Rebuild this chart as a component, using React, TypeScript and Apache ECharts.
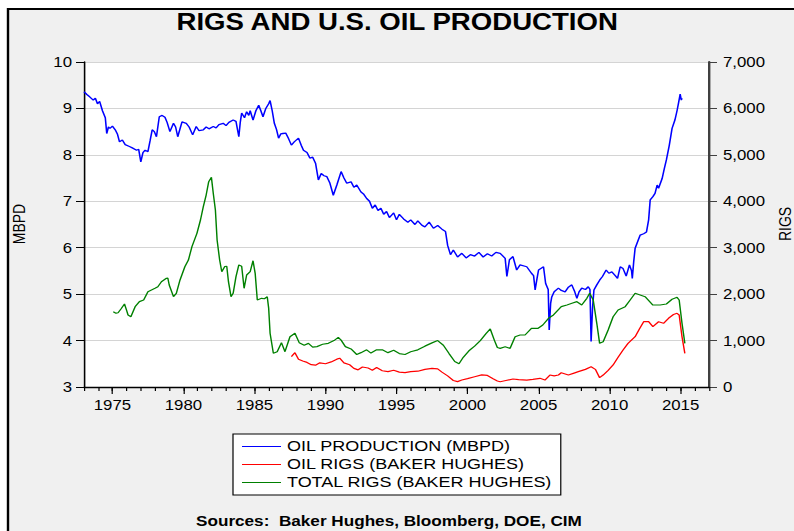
import React, { useEffect, useRef } from 'react';
import * as echarts from 'echarts';

// The reference picture is horizontally stretched; the chart is laid out in
// "chart units" and stretched by S with CSS.
const S = 1.2;
const W = 794 / S;
const FONT = '"Liberation Sans", Arial, Helvetica, sans-serif';

const TITLE = 'RIGS AND U.S. OIL PRODUCTION';
const SOURCES = 'Sources:  Baker Hughes, Bloomberg, DOE, CIM';
const LEFT_NAME = 'MBPD';
const RIGHT_NAME = 'RIGS';
const SERIES_NAMES = ['OIL PRODUCTION (MBPD)', 'OIL RIGS (BAKER HUGHES)', 'TOTAL RIGS (BAKER HUGHES)'];

const X_MIN = 1973;
const X_MAX = 2017;
const X_CATEGORIES = [
  '1973', '1974', '1975', '1976', '1977', '1978', '1979', '1980', '1981', '1982',
  '1983', '1984', '1985', '1986', '1987', '1988', '1989', '1990', '1991', '1992',
  '1993', '1994', '1995', '1996', '1997', '1998', '1999', '2000', '2001', '2002',
  '2003', '2004', '2005', '2006', '2007', '2008', '2009', '2010', '2011', '2012',
  '2013', '2014', '2015', '2016', '2017',
];
const X_LABELS = ['1975', '1980', '1985', '1990', '1995', '2000', '2005', '2010', '2015'];

// [year, million barrels per day]
const oilProduction: [number, number][] = [
  [1973.0, 9.36], [1973.2, 9.3], [1973.4, 9.25], [1973.65, 9.18], [1973.8, 9.22], [1973.95, 9.1],
  [1974.1, 9.15], [1974.3, 8.95], [1974.5, 8.8], [1974.6, 8.46], [1974.72, 8.6], [1974.83, 8.57],
  [1975.0, 8.62], [1975.2, 8.54], [1975.35, 8.45], [1975.5, 8.28], [1975.7, 8.32], [1975.9, 8.22],
  [1976.2, 8.18], [1976.4, 8.15], [1976.7, 8.1], [1976.85, 8.12], [1977.0, 7.85], [1977.15, 8.05],
  [1977.3, 8.1], [1977.5, 8.07], [1977.65, 8.3], [1977.8, 8.54], [1977.95, 8.5], [1978.1, 8.39],
  [1978.3, 8.82], [1978.5, 8.85], [1978.7, 8.81], [1978.85, 8.7], [1979.05, 8.5], [1979.3, 8.68],
  [1979.45, 8.6], [1979.6, 8.39], [1979.9, 8.71], [1980.2, 8.68], [1980.4, 8.6], [1980.65, 8.43],
  [1980.9, 8.61], [1981.1, 8.52], [1981.4, 8.54], [1981.6, 8.6], [1981.8, 8.56], [1982.1, 8.61],
  [1982.3, 8.58], [1982.5, 8.65], [1982.8, 8.68], [1983.0, 8.63], [1983.2, 8.7], [1983.5, 8.75],
  [1983.7, 8.72], [1983.9, 8.39], [1984.0, 8.7], [1984.1, 8.9], [1984.3, 8.8], [1984.45, 8.93],
  [1984.6, 8.85], [1984.7, 8.95], [1984.9, 8.75], [1985.1, 8.95], [1985.3, 9.07], [1985.45, 8.95],
  [1985.6, 8.82], [1985.8, 9.0], [1986.0, 9.1], [1986.1, 9.17], [1986.25, 8.95], [1986.4, 8.68],
  [1986.55, 8.55], [1986.7, 8.36], [1986.85, 8.45], [1987.0, 8.46], [1987.2, 8.47], [1987.4, 8.35],
  [1987.6, 8.21], [1987.8, 8.28], [1988.1, 8.36], [1988.3, 8.2], [1988.45, 8.1], [1988.7, 8.05],
  [1988.9, 7.93], [1989.1, 7.95], [1989.3, 7.82], [1989.5, 7.46], [1989.7, 7.6], [1989.9, 7.55],
  [1990.1, 7.53], [1990.3, 7.4], [1990.55, 7.13], [1990.8, 7.35], [1991.1, 7.64], [1991.3, 7.5],
  [1991.5, 7.39], [1991.8, 7.42], [1992.0, 7.3], [1992.2, 7.35], [1992.5, 7.2], [1992.7, 7.15],
  [1992.9, 7.06], [1993.1, 7.0], [1993.3, 6.85], [1993.5, 6.92], [1993.7, 6.8], [1993.9, 6.85],
  [1994.1, 6.72], [1994.3, 6.78], [1994.5, 6.65], [1994.8, 6.75], [1995.0, 6.6], [1995.2, 6.72],
  [1995.5, 6.62], [1995.8, 6.55], [1996.0, 6.6], [1996.3, 6.5], [1996.5, 6.58], [1996.8, 6.48],
  [1997.0, 6.45], [1997.3, 6.55], [1997.6, 6.42], [1997.9, 6.48], [1998.2, 6.4], [1998.45, 6.35],
  [1998.6, 6.05], [1998.8, 5.85], [1999.0, 5.95], [1999.3, 5.8], [1999.6, 5.88], [1999.9, 5.78],
  [2000.2, 5.85], [2000.5, 5.82], [2000.8, 5.9], [2001.1, 5.8], [2001.4, 5.87], [2001.7, 5.82],
  [2002.0, 5.9], [2002.3, 5.88], [2002.65, 5.77], [2002.77, 5.38], [2002.95, 5.74], [2003.2, 5.81],
  [2003.46, 5.52], [2003.7, 5.63], [2004.17, 5.59], [2004.5, 5.45], [2004.65, 5.4], [2004.76, 5.09],
  [2004.9, 5.35], [2005.0, 5.52], [2005.35, 5.59], [2005.5, 5.23], [2005.68, 5.1], [2005.75, 4.23],
  [2005.85, 4.8], [2005.93, 4.94], [2006.1, 5.05], [2006.4, 5.13], [2006.6, 5.08], [2006.87, 5.05],
  [2007.1, 5.15], [2007.34, 5.2], [2007.55, 5.05], [2007.7, 4.91], [2007.85, 5.05], [2008.04, 5.13],
  [2008.3, 5.1], [2008.5, 5.16], [2008.62, 5.1], [2008.7, 3.98], [2008.8, 4.7], [2008.9, 5.09],
  [2009.1, 5.2], [2009.3, 5.3], [2009.5, 5.38], [2009.76, 5.52], [2009.95, 5.45], [2010.16, 5.48],
  [2010.4, 5.4], [2010.56, 5.34], [2010.75, 5.59], [2010.95, 5.55], [2011.17, 5.39], [2011.4, 5.63],
  [2011.55, 5.5], [2011.6, 5.34], [2011.7, 5.7], [2011.8, 5.99], [2012.0, 6.15], [2012.15, 6.27],
  [2012.4, 6.3], [2012.6, 6.34], [2012.75, 6.6], [2012.86, 7.03], [2013.05, 7.1], [2013.2, 7.17],
  [2013.35, 7.35], [2013.45, 7.28], [2013.7, 7.49], [2013.85, 7.7], [2014.0, 7.89], [2014.2, 8.2],
  [2014.4, 8.57], [2014.6, 8.75], [2014.75, 8.95], [2014.85, 9.11], [2014.97, 9.31], [2015.05, 9.18],
  [2015.1, 9.22],
];

// [year, rigs]
const oilRigs: [number, number][] = [
  [1987.6, 653], [1987.85, 739], [1988.1, 597], [1988.4, 560], [1988.7, 530], [1989.0, 480],
  [1989.3, 470], [1989.6, 520], [1990.0, 500], [1990.4, 540], [1990.8, 600], [1991.0, 620],
  [1991.3, 520], [1991.7, 480], [1992.0, 400], [1992.3, 370], [1992.6, 430], [1993.0, 410],
  [1993.3, 360], [1993.6, 420], [1994.0, 350], [1994.4, 330], [1994.8, 360], [1995.2, 320],
  [1995.6, 310], [1996.0, 330], [1996.5, 340], [1997.0, 380], [1997.5, 400], [1997.9, 390],
  [1998.2, 320], [1998.6, 240], [1999.0, 140], [1999.3, 115], [1999.6, 150], [2000.0, 180],
  [2000.5, 220], [2001.0, 260], [2001.4, 250], [2001.8, 180], [2002.1, 130], [2002.3, 114],
  [2002.7, 140], [2003.2, 172], [2003.6, 160], [2004.17, 150], [2004.6, 165], [2005.1, 187],
  [2005.45, 150], [2005.8, 258], [2006.1, 240], [2006.4, 258], [2006.6, 308], [2007.1, 258],
  [2007.5, 300], [2007.8, 330], [2008.3, 380], [2008.7, 438], [2009.0, 380], [2009.3, 201],
  [2009.55, 258], [2009.9, 360], [2010.25, 474], [2010.6, 640], [2010.95, 797], [2011.3, 941],
  [2011.8, 1083], [2012.1, 1250], [2012.4, 1406], [2012.75, 1406], [2013.05, 1299], [2013.45, 1406],
  [2013.8, 1372], [2014.15, 1480], [2014.5, 1560], [2014.75, 1587], [2014.9, 1551], [2015.1, 1083],
  [2015.3, 726],
];

const totalRigs: [number, number][] = [
  [1975.06, 1622], [1975.25, 1590], [1975.4, 1600], [1975.6, 1680], [1975.85, 1788], [1976.0, 1650],
  [1976.1, 1551], [1976.3, 1514], [1976.6, 1730], [1976.9, 1838], [1977.2, 1874], [1977.5, 2053],
  [1977.75, 2090], [1978.0, 2126], [1978.2, 2160], [1978.45, 2268], [1978.8, 2341], [1978.9, 2348],
  [1979.0, 2197], [1979.3, 1945], [1979.5, 2018], [1979.76, 2305], [1980.1, 2591], [1980.35, 2735],
  [1980.6, 3022], [1980.95, 3310], [1981.2, 3597], [1981.4, 3883], [1981.6, 4135], [1981.78, 4422],
  [1981.97, 4516], [1982.1, 4172], [1982.25, 3812], [1982.37, 3166], [1982.55, 2735], [1982.7, 2483],
  [1982.9, 2591], [1983.05, 2600], [1983.17, 2268], [1983.35, 1945], [1983.5, 2018], [1983.7, 2376],
  [1983.9, 2628], [1984.1, 2600], [1984.27, 2126], [1984.45, 2412], [1984.7, 2483], [1984.9, 2720],
  [1985.05, 2449], [1985.2, 1874], [1985.5, 1910], [1985.7, 1900], [1985.9, 1945], [1986.0, 1700],
  [1986.1, 1157], [1986.33, 726], [1986.6, 760], [1986.9, 955], [1987.15, 760], [1987.5, 1083],
  [1987.85, 1157], [1988.15, 955], [1988.5, 900], [1988.8, 940], [1989.1, 860], [1989.4, 870],
  [1989.8, 920], [1990.2, 940], [1990.6, 1000], [1990.9, 1070], [1991.1, 1010], [1991.4, 870],
  [1991.8, 820], [1992.2, 700], [1992.5, 740], [1992.9, 800], [1993.2, 730], [1993.6, 800],
  [1994.0, 800], [1994.4, 740], [1994.8, 790], [1995.2, 720], [1995.6, 700], [1996.0, 760],
  [1996.5, 800], [1997.0, 880], [1997.5, 950], [1997.9, 1000], [1998.3, 900], [1998.7, 720],
  [1999.1, 550], [1999.4, 500], [1999.7, 640], [2000.1, 780], [2000.5, 880], [2000.9, 1000],
  [2001.3, 1150], [2001.6, 1250], [2001.9, 1000], [2002.1, 850], [2002.3, 833], [2002.65, 868],
  [2003.0, 833], [2003.35, 1083], [2003.7, 1120], [2004.05, 1120], [2004.5, 1264], [2004.97, 1264],
  [2005.3, 1335], [2005.7, 1480], [2006.05, 1551], [2006.6, 1730], [2007.0, 1766], [2007.35, 1803],
  [2007.7, 1838], [2008.04, 1766], [2008.4, 1910], [2008.6, 2018], [2008.85, 1874], [2009.1, 1372],
  [2009.3, 941], [2009.55, 976], [2009.9, 1228], [2010.25, 1514], [2010.6, 1658], [2011.1, 1730],
  [2011.45, 1874], [2011.8, 2018], [2012.15, 1982], [2012.5, 1945], [2013.05, 1766], [2013.56, 1766],
  [2014.0, 1788], [2014.4, 1889], [2014.75, 1932], [2014.9, 1874], [2015.1, 1372], [2015.3, 941],
];

const COLORS = ['#0000ff', '#ff0000', '#008000'];

export default function App() {
  const ref = useRef<HTMLDivElement>(null);

  useEffect(() => {
    if (!ref.current) return;
    const chart = echarts.init(ref.current, undefined, { renderer: 'svg' });
    const gridLeft = 84 / S;
    const gridRight = 709 / S;
    const isLabel = (_i: number, v: string) => X_LABELS.indexOf(v) >= 0;

    chart.setOption({
      animation: false,
      title: {
        text: TITLE,
        left: 'center',
        top: 5,
        textStyle: { fontFamily: FONT, fontSize: 23, fontWeight: 'bold', color: '#000' },
      },
      graphic: [
        {
          type: 'rect',
          z: -100,
          silent: true,
          shape: { x: 8 / S, y: 9, width: 900, height: 900 },
          style: { fill: '#f0f0f0', stroke: '#000', lineWidth: 2 },
        },
        {
          type: 'text',
          x: 19 / S,
          y: 224,
          rotation: Math.PI / 2,
          style: {
            text: LEFT_NAME, fill: '#000', font: `14px ${FONT}`,
            textAlign: 'center', textVerticalAlign: 'middle',
          },
        },
        {
          type: 'text',
          x: 785 / S,
          y: 224,
          rotation: Math.PI / 2,
          style: {
            text: RIGHT_NAME, fill: '#000', font: `14px ${FONT}`,
            textAlign: 'center', textVerticalAlign: 'middle',
          },
        },
        {
          type: 'text',
          x: 196 / S,
          y: 521,
          style: {
            text: SOURCES, fill: '#000', font: `bold 14.3px ${FONT}`,
            textAlign: 'left', textVerticalAlign: 'middle',
          },
        },
      ],
      legend: {
        orient: 'vertical',
        left: 233 / S,
        top: 434,
        padding: [5, 7, 5, 7.5],
        itemGap: 3,
        itemWidth: 39 / S,
        itemHeight: 1.2,
        icon: 'rect',
        backgroundColor: '#fff',
        borderColor: '#000',
        borderWidth: 1,
        textStyle: { fontFamily: FONT, fontSize: 15, lineHeight: 15, color: '#000' },
        data: SERIES_NAMES,
      },
      grid: {
        left: gridLeft,
        top: 62,
        width: gridRight - gridLeft,
        height: 325,
        show: true,
        backgroundColor: '#fff',
        borderWidth: 0,
        containLabel: false,
      },
      xAxis: [
        {
          type: 'value',
          min: X_MIN,
          max: X_MAX,
          interval: 1,
          position: 'bottom',
          axisLine: { show: true, lineStyle: { color: '#000', width: 1.3 } },
          axisTick: { show: true, length: 4, lineStyle: { color: '#000', width: 1 } },
          axisLabel: { show: false },
          splitLine: { show: false },
        },
        {
          type: 'category',
          data: X_CATEGORIES,
          boundaryGap: false,
          position: 'bottom',
          axisLine: { show: false },
          axisTick: { show: true, length: 7, interval: isLabel, lineStyle: { color: '#000', width: 1 } },
          axisLabel: {
            show: true, interval: isLabel, margin: 11,
            fontFamily: FONT, fontSize: 14, color: '#000',
          },
          splitLine: { show: false },
        },
      ],
      yAxis: [
        {
          type: 'value',
          min: 3,
          max: 10,
          interval: 1,
          position: 'left',
          axisLine: { show: true, lineStyle: { color: '#000', width: 1.3 } },
          axisTick: { show: true, length: 8 / S, lineStyle: { color: '#000', width: 1 } },
          axisLabel: { margin: 12 / S, fontFamily: FONT, fontSize: 14, color: '#000' },
          splitLine: { show: true, lineStyle: { color: '#d4d4d4', width: 1 } },
        },
        {
          type: 'value',
          min: 0,
          max: 7000,
          interval: 1000,
          position: 'right',
          axisLine: { show: true, lineStyle: { color: '#404040', width: 2 } },
          axisTick: { show: true, length: 8 / S, lineStyle: { color: '#404040', width: 1 } },
          axisLabel: {
            margin: 14 / S, fontFamily: FONT, fontSize: 14, color: '#000',
            formatter: (v: number) => v.toLocaleString('en-US'),
          },
          splitLine: { show: false },
        },
      ],
      series: [
        {
          name: SERIES_NAMES[0], type: 'line', xAxisIndex: 0, yAxisIndex: 0,
          data: oilProduction, symbol: 'none', color: COLORS[0],
          lineStyle: { color: COLORS[0], width: 1.3 },
        },
        {
          name: SERIES_NAMES[1], type: 'line', xAxisIndex: 0, yAxisIndex: 1,
          data: oilRigs, symbol: 'none', color: COLORS[1],
          lineStyle: { color: COLORS[1], width: 1.2 },
        },
        {
          name: SERIES_NAMES[2], type: 'line', xAxisIndex: 0, yAxisIndex: 1,
          data: totalRigs, symbol: 'none', color: COLORS[2],
          lineStyle: { color: COLORS[2], width: 1.2 },
        },
      ],
    });
    return () => chart.dispose();
  }, []);

  return (
    <div
      ref={ref}
      style={{
        position: 'absolute', left: 0, top: 0, width: W, height: 531,
        transform: `scaleX(${S})`, transformOrigin: '0 0', overflow: 'hidden',
      }}
    />
  );
}
